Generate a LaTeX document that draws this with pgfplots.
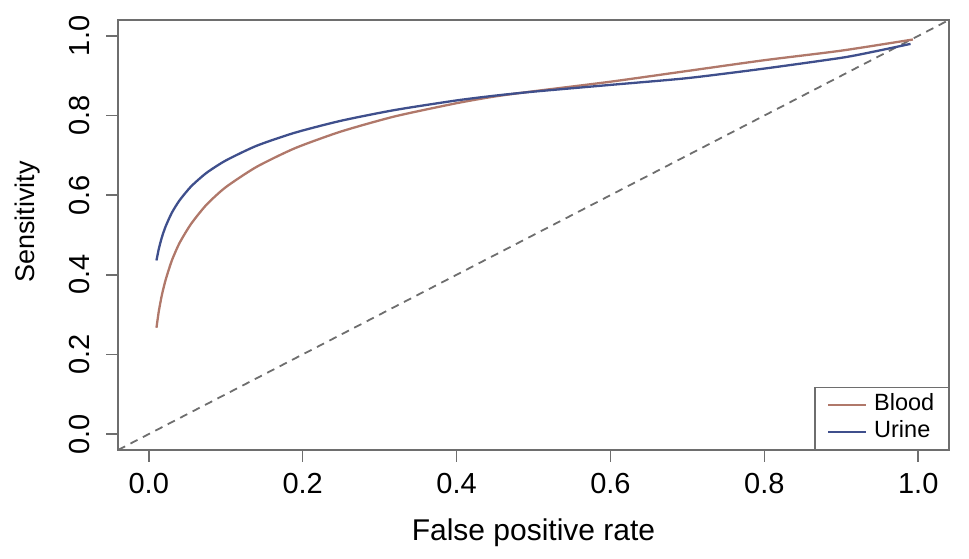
\documentclass[border=0pt]{standalone}
\usepackage{pgfplots}
\pgfplotsset{compat=1.18}
\usepackage{fontspec}
\setmainfont{Liberation Sans}
\definecolor{bloodc}{HTML}{B0786A}
\definecolor{urinec}{HTML}{3F4F8C}
\definecolor{boxgray}{HTML}{6E6E6E}

\begin{document}
\begin{tikzpicture}
\useasboundingbox (-118pt,-109pt) rectangle (851pt,450pt);
\begin{axis}[
  at={(0pt,0pt)}, anchor=south west,
  scale only axis, width=831pt, height=430pt,
  xmin=-0.04, xmax=1.04, ymin=-0.04, ymax=1.04,
  xtick={0,0.2,...,1}, ytick={0,0.2,...,1},
  xticklabels={0.0,0.2,0.4,0.6,0.8,1.0},
  yticklabels={0.0,0.2,0.4,0.6,0.8,1.0},
  axis line style={boxgray, line width=1.6pt},
  tick style={boxgray, line width=1.6pt},
  tick align=outside, major tick length=12pt,
  xtick pos=bottom, ytick pos=left,
  ticklabel style={font=\fontsize{29}{30}\selectfont, inner sep=0pt},
  xticklabel style={anchor=north},
  yticklabel style={rotate=90, anchor=south},
  xticklabel shift=11pt, yticklabel shift=16pt,
  xlabel={False positive rate},
  ylabel={Sensitivity},
  xlabel style={font=\fontsize{30}{32}\selectfont, at={(axis description cs:0.5,-0.2093)}, anchor=base, inner sep=0pt},
  ylabel style={font=\fontsize{27}{30}\selectfont, at={(axis description cs:-0.0999,0.53)}, anchor=base, inner sep=0pt},
  legend cell align=left,
  legend style={at={(rel axis cs:1,0)}, anchor=south east, draw=boxgray, line width=1.4pt,
    font=\fontsize{23.5}{24}\selectfont, inner xsep=12pt, inner ysep=4pt, row sep=0pt,
    nodes={inner sep=2pt, text height=17pt, text depth=6pt},
    /tikz/column 1/.style={column sep=5pt}},
  legend image code/.code={\draw[#1] (0pt,0pt) -- (38pt,0pt);},
  clip=true,
]
\addplot[boxgray, line width=1.8pt, dash pattern=on 8pt off 6pt, forget plot] coordinates {(-0.04,-0.04) (1.04,1.04)};
\addplot[bloodc, line width=2.3pt, smooth, tension=0.4] coordinates {
(0.010,0.267) (0.013,0.308) (0.017,0.349) (0.022,0.388) (0.030,0.436) (0.040,0.480)
(0.055,0.528) (0.075,0.576) (0.100,0.620) (0.140,0.671) (0.190,0.718) (0.250,0.760)
(0.320,0.798) (0.400,0.831) (0.450,0.848) (0.500,0.861) (0.600,0.885) (0.700,0.912)
(0.800,0.939) (0.900,0.963) (0.993,0.991)};
\addlegendentry{Blood}
\addplot[urinec, line width=2.3pt, smooth, tension=0.4] coordinates {
(0.010,0.436) (0.013,0.465) (0.017,0.494) (0.022,0.522) (0.030,0.556) (0.040,0.587)
(0.055,0.622) (0.075,0.656) (0.100,0.687) (0.140,0.724) (0.190,0.757) (0.250,0.787)
(0.320,0.814) (0.400,0.838) (0.450,0.850) (0.500,0.860) (0.600,0.877) (0.700,0.894)
(0.800,0.918) (0.900,0.945) (0.941,0.960) (0.990,0.980)};
\addlegendentry{Urine}
\end{axis}
\end{tikzpicture}
\end{document}
